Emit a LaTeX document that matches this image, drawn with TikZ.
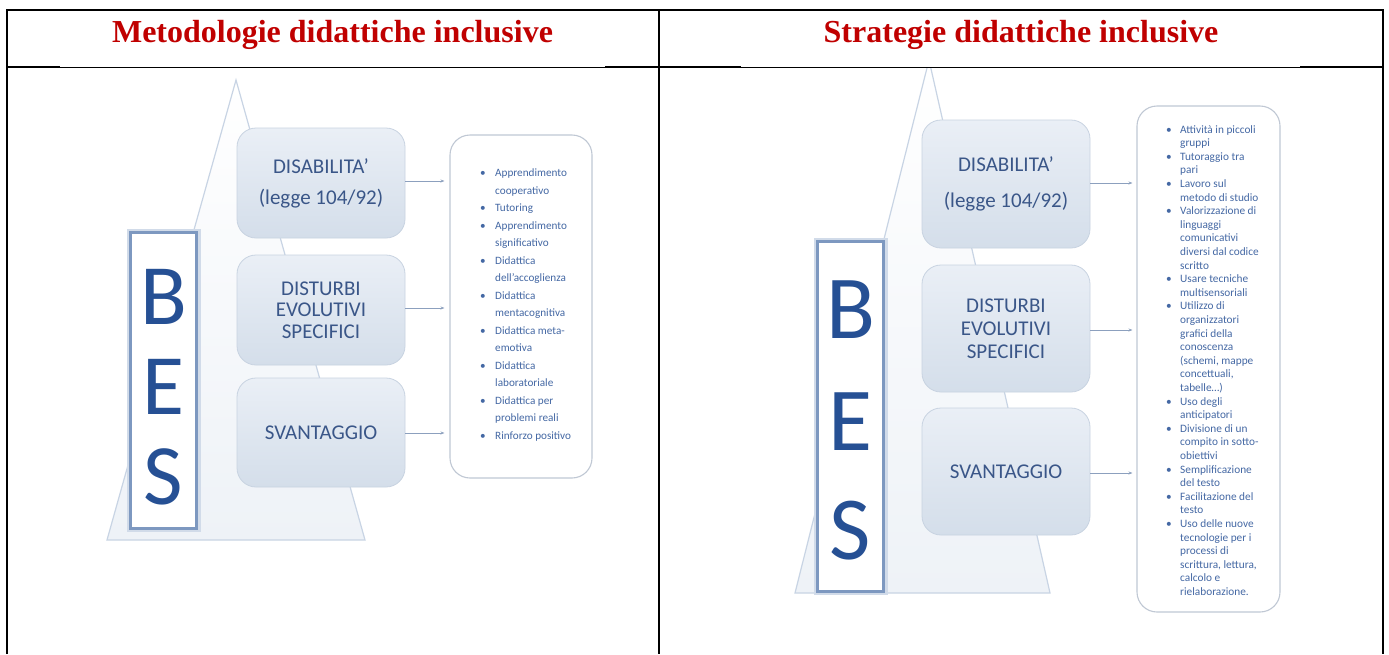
\documentclass[tikz,border=0pt]{standalone}
\usepackage{fontspec}
\setmainfont{Liberation Serif}
\newfontfamily\calfont{Carlito}
\usetikzlibrary{arrows.meta}
\definecolor{titlered}{RGB}{192,0,0}
\definecolor{boxtext}{RGB}{58,86,136}
\definecolor{besblue}{RGB}{38,80,148}
\definecolor{besframe}{RGB}{125,152,192}
\definecolor{listtext}{RGB}{68,104,164}
\definecolor{arrowc}{RGB}{140,160,190}
\definecolor{tri}{RGB}{200,212,228}
\definecolor{trifill}{RGB}{238,242,247}
\definecolor{boxtop}{RGB}{234,239,246}
\definecolor{boxbot}{RGB}{212,222,234}
\definecolor{boxedge}{RGB}{200,211,225}
\definecolor{listframe}{RGB}{192,200,212}
\newcommand{\bu}{\makebox[15pt][l]{\textbullet}}
\newcommand{\ind}{\hspace*{15pt}}
\newcommand{\bur}{\makebox[14pt][l]{\textbullet}}
\newcommand{\indr}{\hspace*{14pt}}
\begin{document}
\begin{tikzpicture}[x=1pt,y=-1pt,
  tline/.style={line width=2pt,black},
  thinline/.style={line width=1pt,black},
  title/.style={font=\bfseries\fontsize{32}{38}\selectfont, text=titlered, anchor=base, inner sep=0pt},
  catbox/.style={rounded corners=19pt, top color=boxtop, bottom color=boxbot, draw=boxedge, line width=0.8pt, minimum width=168pt, text=boxtext, align=center, inner sep=0pt},
  besbox/.style={draw=besframe, line width=3pt, fill=white, minimum width=66pt, inner sep=0pt},
  besglow/.style={draw=besframe!35, line width=7pt},
  besletter/.style={font=\calfont\fontsize{86}{86}\selectfont, text=besblue, inner sep=0pt},
  listbox/.style={rounded corners=20pt, draw=listframe, line width=1.1pt, fill=white, inner sep=0pt},
  listtxt/.style={text=listtext, align=left, anchor=north west, inner sep=0pt},
  conn/.style={draw=arrowc, line width=0.7pt, -{Stealth[length=4pt,width=3pt]}},
  pyramid/.style={draw=tri, line width=1.2pt, top color=white, bottom color=trifill}
]
\useasboundingbox (0,0) rectangle (1389,654);
\fill[white] (0,0) rectangle (1389,654);
% table
\draw[thinline] (6.7,67) -- (1383,67);
\draw[tline] (6.7,67) -- (60,67);
\draw[tline] (605,67) -- (741,67);
\draw[tline] (1300,67) -- (1383,67);
\draw[tline] (6.7,654) -- (6.7,10) -- (1383,10) -- (1383,654);
\draw[tline] (659,10) -- (659,654);
\node[title] (t1) at (332.5,42) {Metodologie didattiche inclusive};
\node[title] (t2) at (1021,42) {Strategie didattiche inclusive};

% ---------- left diagram ----------
\path[pyramid] (236,80) -- (107,540) -- (365,540) -- cycle;
\draw[besglow] (130,232) rectangle (197,528);
\node[besbox, minimum height=296pt] (bes1) at (163.5,380) {};
\node[besletter] (b1) at (163.5,297) {B};
\node[besletter] (e1) at (163.5,387) {E};
\node[besletter] (s1) at (163.5,477) {S};
\node[catbox, minimum height=110pt, font=\calfont\fontsize{21}{31}\selectfont] (d1) at (321,183) {DISABILITA’\\(legge 104/92)};
\node[catbox, minimum height=110pt, font=\calfont\fontsize{21}{21.5}\selectfont] (d2) at (321,310) {DISTURBI\\EVOLUTIVI\\SPECIFICI};
\node[catbox, minimum height=109pt, font=\calfont\fontsize{21}{21.5}\selectfont] (d3) at (321,432.5) {SVANTAGGIO};
\node[listbox, minimum width=142pt, minimum height=343pt] (l1) at (521,306.5) {};
\node[listtxt, font=\calfont\fontsize{11.2}{17.5}\selectfont] (lt1) at (480,169) {%
\bu Apprendimento\\ \ind cooperativo\\
\bu Tutoring\\
\bu Apprendimento\\ \ind significativo\\
\bu Didattica\\ \ind dell’accoglienza\\
\bu Didattica\\ \ind mentacognitiva\\
\bu Didattica meta-\\ \ind emotiva\\
\bu Didattica\\ \ind laboratoriale\\
\bu Didattica per\\ \ind problemi reali\\
\bu Rinforzo positivo};
\coordinate (a1) at ([xshift=-5pt]l1.west |- 0,181);
\coordinate (a2) at ([xshift=-5pt]l1.west |- 0,308);
\coordinate (a3) at ([xshift=-5pt]l1.west |- 0,433);
\draw[conn] (d1.east |- a1) -- (a1);
\draw[conn] (d2.east |- a2) -- (a2);
\draw[conn] (d3.east |- a3) -- (a3);

% ---------- right diagram ----------
\begin{scope}
\clip (741,68) rectangle (1300,654);
\path[pyramid] (929,60) -- (795,593) -- (1050,593) -- cycle;
\end{scope}
\draw[besglow] (817,241) rectangle (884,591);
\node[besbox, minimum height=350pt] (bes2) at (850.5,416) {};
\node[besletter, font=\calfont\fontsize{90}{90}\selectfont] (b2) at (850.5,310) {B};
\node[besletter, font=\calfont\fontsize{90}{90}\selectfont] (e2) at (850.5,422) {E};
\node[besletter, font=\calfont\fontsize{90}{90}\selectfont] (s2) at (850.5,531) {S};
\node[catbox, minimum height=128pt, font=\calfont\fontsize{21}{36}\selectfont] (r1) at (1006,184) {DISABILITA’\\(legge 104/92)};
\node[catbox, minimum height=127pt, font=\calfont\fontsize{21}{23}\selectfont] (r2) at (1006,328.5) {DISTURBI\\EVOLUTIVI\\SPECIFICI};
\node[catbox, minimum height=127pt, font=\calfont\fontsize{21}{23}\selectfont] (r3) at (1006,471.5) {SVANTAGGIO};
\node[listbox, minimum width=143pt, minimum height=506pt] (l2) at (1208.5,359) {};
\node[listtxt, font=\calfont\fontsize{11.3}{13.6}\selectfont] (lt2) at (1166,125) {%
\bur Attività in piccoli\\ \indr gruppi\\
\bur Tutoraggio tra\\ \indr pari\\
\bur Lavoro sul\\ \indr metodo di studio\\
\bur Valorizzazione di\\ \indr linguaggi\\ \indr comunicativi\\ \indr diversi dal codice\\ \indr scritto\\
\bur Usare tecniche\\ \indr multisensoriali\\
\bur Utilizzo di\\ \indr organizzatori\\ \indr grafici della\\ \indr conoscenza\\ \indr (schemi, mappe\\ \indr concettuali,\\ \indr tabelle…)\\
\bur Uso degli\\ \indr anticipatori\\
\bur Divisione di un\\ \indr compito in sotto-\\ \indr obiettivi\\
\bur Semplificazione\\ \indr del testo\\
\bur Facilitazione del\\ \indr testo\\
\bur Uso delle nuove\\ \indr tecnologie per i\\ \indr processi di\\ \indr scrittura, lettura,\\ \indr calcolo e\\ \indr rielaborazione.};
\coordinate (c1) at ([xshift=-4pt]l2.west |- 0,183);
\coordinate (c2) at ([xshift=-4pt]l2.west |- 0,330);
\coordinate (c3) at ([xshift=-4pt]l2.west |- 0,473);
\draw[conn] (r1.east |- c1) -- (c1);
\draw[conn] (r2.east |- c2) -- (c2);
\draw[conn] (r3.east |- c3) -- (c3);
\end{tikzpicture}
\end{document}
